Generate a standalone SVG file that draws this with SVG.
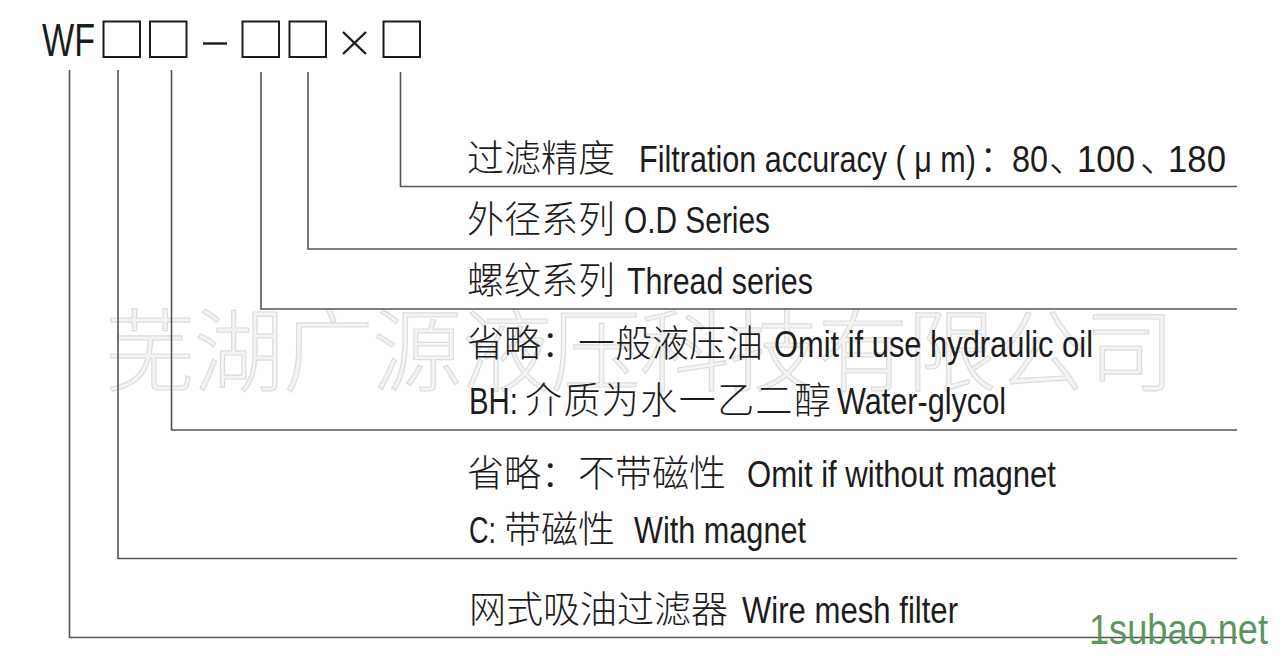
<svg xmlns="http://www.w3.org/2000/svg" width="1283" height="672" viewBox="0 0 1283 672">
<style>
.cn{font-family:"Noto Sans CJK SC","Noto Sans CJK TC",sans-serif;font-size:37px;font-weight:300;fill:#1c1c1c}
.en{font-family:"Liberation Sans",Arial,sans-serif;font-size:37px;fill:#1c1c1c}
.ttl{font-family:"Liberation Sans",Arial,sans-serif;font-size:46px;fill:#1c1c1c}
.box{fill:none;stroke:#1c1c1c;stroke-width:2}
.sym{fill:none;stroke:#1c1c1c;stroke-width:2.4}
.conn{fill:none;stroke:#555;stroke-width:1.6}
.wm{font-family:"Noto Sans CJK SC",sans-serif;font-size:90px;font-weight:300;fill:#f4f4f4;stroke:#dcdcdc;stroke-width:1.2}
.site{font-family:"Liberation Sans",Arial,sans-serif;font-size:42px;fill:#5f935f}
</style>
<rect width="1283" height="672" fill="#ffffff"/>
<g id="watermark">
<text class="wm" x="105" y="384" textLength="1070" lengthAdjust="spacing">芜湖广源液压科技有限公司</text>
</g>
<g id="title">
<text class="ttl" x="42" y="55.5" textLength="53" lengthAdjust="spacingAndGlyphs">WF</text>
<rect class="box" x="103.5" y="21.5" width="36.5" height="35.5"/>
<rect class="box" x="150" y="21.5" width="36.5" height="35.5"/>
<line class="sym" x1="203" y1="43.5" x2="227" y2="43.5"/>
<rect class="box" x="242.5" y="21.5" width="36.5" height="35.5"/>
<rect class="box" x="289.5" y="21.5" width="36.5" height="35.5"/>
<line class="sym" x1="343" y1="32" x2="366" y2="54"/>
<line class="sym" x1="366" y1="32" x2="343" y2="54"/>
<rect class="box" x="383.5" y="21.5" width="36.5" height="35.5"/>
</g>
<g id="connectors">
<polyline class="conn" points="400.5,72 400.5,186.5 1237,186.5"/>
<polyline class="conn" points="308,72 308,249 1237,249"/>
<polyline class="conn" points="261,72 261,309 1237,309"/>
<polyline class="conn" points="171.5,70 171.5,430 1237,430"/>
<polyline class="conn" points="118,70 118,558.5 1237,558.5"/>
<polyline class="conn" points="69.5,70 69.5,637.5 1237,637.5"/>
</g>
<g id="accuracy">
<text class="cn" x="467" y="172">过滤精度</text>
<text class="en" x="639" y="172" textLength="337" lengthAdjust="spacingAndGlyphs">Filtration accuracy ( μ m)</text>
<text class="cn" x="979" y="172">：</text>
<text class="en" x="1012" y="172" textLength="36" lengthAdjust="spacingAndGlyphs">80</text>
<text class="cn" x="1049" y="172">、</text>
<text class="en" x="1077" y="172" textLength="58" lengthAdjust="spacingAndGlyphs">100</text>
<text class="cn" x="1140" y="172">、</text>
<text class="en" x="1168" y="172" textLength="58" lengthAdjust="spacingAndGlyphs">180</text>
</g>
<g id="od-series">
<text class="cn" x="467" y="233">外径系列</text>
<text class="en" x="624" y="233" textLength="146" lengthAdjust="spacingAndGlyphs">O.D Series</text>
</g>
<g id="thread-series">
<text class="cn" x="467" y="294">螺纹系列</text>
<text class="en" x="627" y="294" textLength="186" lengthAdjust="spacingAndGlyphs">Thread series</text>
</g>
<g id="medium">
<text class="cn" x="467" y="357">省略：一般液压油</text>
<text class="en" x="774" y="357" textLength="319" lengthAdjust="spacingAndGlyphs">Omit if use hydraulic oil</text>
<text class="en" x="469" y="414" textLength="49" lengthAdjust="spacingAndGlyphs">BH:</text>
<text class="cn" x="525" y="414" textLength="306" lengthAdjust="spacing">介质为水一乙二醇</text>
<text class="en" x="837" y="414" textLength="169" lengthAdjust="spacingAndGlyphs">Water-glycol</text>
</g>
<g id="magnet">
<text class="cn" x="467" y="487">省略：不带磁性</text>
<text class="en" x="747" y="487" textLength="309" lengthAdjust="spacingAndGlyphs">Omit if without magnet</text>
<text class="en" x="469" y="543" textLength="27" lengthAdjust="spacingAndGlyphs">C:</text>
<text class="cn" x="504" y="543">带磁性</text>
<text class="en" x="634" y="543" textLength="172" lengthAdjust="spacingAndGlyphs">With magnet</text>
</g>
<g id="filter-type">
<text class="cn" x="469" y="623">网式吸油过滤器</text>
<text class="en" x="742" y="623" textLength="216" lengthAdjust="spacingAndGlyphs">Wire mesh filter</text>
</g>
<g id="site-mark">
<text class="site" x="1089" y="644" textLength="179" lengthAdjust="spacingAndGlyphs">1subao.net</text>
</g>
</svg>
